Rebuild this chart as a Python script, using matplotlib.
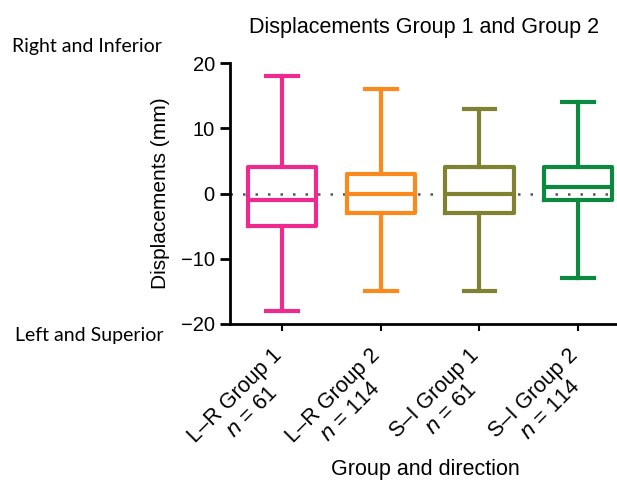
import matplotlib
matplotlib.use('Agg')
import matplotlib.pyplot as plt
import matplotlib.transforms as mtransforms

plt.rcParams['font.family'] = ['Liberation Sans', 'DejaVu Sans']

# Data
labels = ["L\u2013R Group 1\n$n$ = 61", "L\u2013R Group 2\n$n$ = 114",
          "S\u2013I Group 1\n$n$ = 61", "S\u2013I Group 2\n$n$ = 114"]
whislo = [-18, -15, -15, -13]
q1 = [-5, -3, -3, -1]
med = [-1, 0, 0, 1]
q3 = [4, 3, 4, 4]
whishi = [18, 16, 13, 14]
colors = ["#ee2a8f", "#fb8a1e", "#7f8230", "#0b8a3f"]

stats = []
for i in range(len(labels)):
    stats.append(dict(whislo=whislo[i], q1=q1[i], med=med[i], q3=q3[i],
                      whishi=whishi[i], fliers=[], label=labels[i]))

fig = plt.figure(figsize=(6.17, 4.90), dpi=100)
ax = fig.add_axes([0.373, 0.339, 0.627, 0.532])

ax.axhline(0, color="#555555", linestyle=(0, (1, 4)), linewidth=1.8, zorder=0)

pos = list(range(len(labels)))
bp = ax.bxp(stats, positions=pos, widths=0.69, showfliers=False, patch_artist=False)
for i, c in enumerate(colors):
    bp['boxes'][i].set(color=c, linewidth=3)
    bp['medians'][i].set(color=c, linewidth=3)
    for k in (2 * i, 2 * i + 1):
        bp['whiskers'][k].set(color=c, linewidth=3)
        bp['caps'][k].set(color=c, linewidth=3)
        bp['caps'][k].set_xdata([pos[i] - 0.16, pos[i] + 0.16])

ax.set_xlim(-0.527, 3.394)
ax.set_ylim(-20, 20)
ax.set_yticks([-20, -10, 0, 10, 20])
ax.set_yticklabels(["\u221220", "\u221210", "0", "10", "20"])
ax.set_xticks(pos)

for s in ("top", "right"):
    ax.spines[s].set_visible(False)
for s in ("left", "bottom"):
    ax.spines[s].set_linewidth(2)
ax.tick_params(axis="y", length=7, width=2, labelsize=14.5, pad=4)
ax.tick_params(axis="x", length=5, width=1.5, labelsize=15.5, pad=10)

ax.set_xticklabels(labels, rotation=45, ha="right", rotation_mode="anchor",
                   multialignment="center", linespacing=1.15)
# nudge rotated labels a little to the left, like the original
shift = mtransforms.ScaledTranslation(-11 / 100, 0, fig.dpi_scale_trans)
for lab in ax.get_xticklabels():
    lab.set_transform(lab.get_transform() + shift)

ax.set_ylabel("Displacements (mm)", fontsize=15, labelpad=8)
ax.set_title("Displacements Group 1 and Group 2", fontsize=15.5, pad=22)

fig.text(0.69, 0.041, "Group and direction", fontsize=15.5, ha="center", va="center")
fig.text(0.02, 0.905, "Right and Inferior", fontsize=14, family="Lato", va="center")
fig.text(0.024, 0.316, "Left and Superior", fontsize=14, family="Lato", va="center")

fig.savefig("out.png", dpi=100)
